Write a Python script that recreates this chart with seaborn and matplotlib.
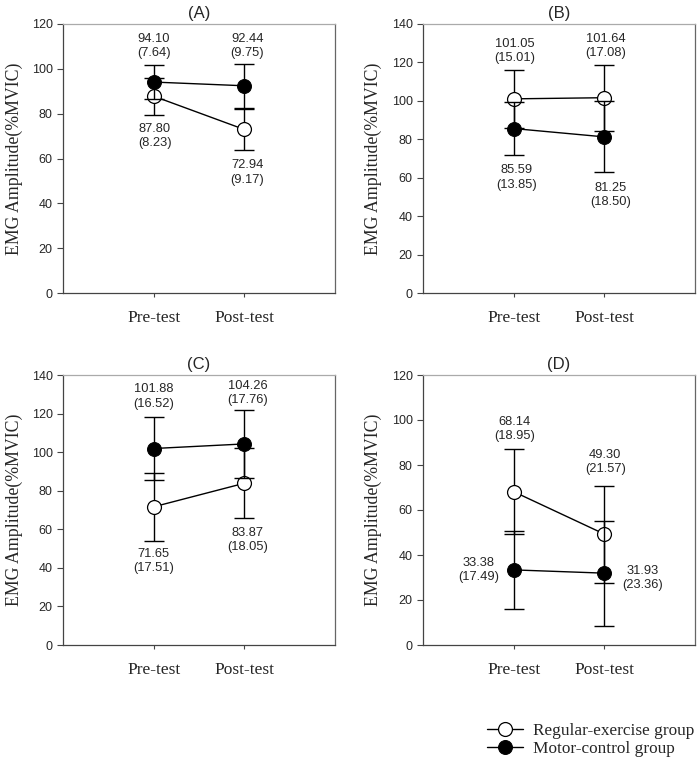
import pandas as pd
import seaborn as sns
import matplotlib.pyplot as plt

# values: [pre, post] per panel
panels = ["(A)", "(B)", "(C)", "(D)"]
times = ["Pre-test", "Post-test"]
regular_mean = [[87.80, 72.94], [101.05, 101.64], [71.65, 83.87], [68.14, 49.30]]
regular_sd = [[8.23, 9.17], [15.01, 17.08], [17.51, 18.05], [18.95, 21.57]]
motor_mean = [[94.10, 92.44], [85.59, 81.25], [101.88, 104.26], [33.38, 31.93]]
motor_sd = [[7.64, 9.75], [13.85, 18.50], [16.52, 17.76], [17.49, 23.36]]
y_max = [120, 140, 140, 120]
groups = ["Regular-exercise group", "Motor-control group"]

# label offsets in pixels (dx, dy) for [pre, post]
reg_offsets = [[(1, -40), (3, -43)], [(1, 48), (1, 52)], [(0, -54), (3, -57)], [(1, 63), (1, 72)]]
mot_offsets = [[(0, 36), (3, 40)], [(3, -49), (6, -58)], [(0, 52), (3, 51)], [(-35, 0), (38, -5)]]

sns.set_style("white")
plt.rcParams["font.family"] = ["Liberation Sans", "DejaVu Sans"]
serif = ["Liberation Serif", "DejaVu Serif"]

fig = plt.figure(figsize=(7, 7.63), dpi=100)
W, H = 700, 763
boxes = [(63, 24, 272, 269), (423, 24, 272, 269), (63, 375, 272, 270), (423, 375, 272, 270)]
label_x = [23, 382, 23, 382]

handles = []
for i, (l, t, w, h) in enumerate(boxes):
    ax = fig.add_axes([l / W, 1 - (t + h) / H, w / W, h / H])
    x = [0, 1]
    df = pd.DataFrame({
        "x": x * 2,
        "mean": regular_mean[i] + motor_mean[i],
        "sd": regular_sd[i] + motor_sd[i],
        "group": [groups[0]] * 2 + [groups[1]] * 2,
    })
    reg = df[df["group"] == groups[0]]
    mot = df[df["group"] == groups[1]]

    ax.errorbar(reg["x"], reg["mean"], yerr=reg["sd"], fmt="none", ecolor="black",
                elinewidth=1, capsize=7, capthick=1, zorder=2)
    sns.lineplot(data=reg, x="x", y="mean", color="black", marker="o", markersize=10,
                 markerfacecolor="white", markeredgecolor="black", markeredgewidth=0.9,
                 linewidth=1, errorbar=None, ax=ax, zorder=3)
    h_reg = ax.lines[-1]
    ax.errorbar(mot["x"], mot["mean"], yerr=mot["sd"], fmt="none", ecolor="black",
                elinewidth=1, capsize=7, capthick=1, zorder=4)
    sns.lineplot(data=mot, x="x", y="mean", color="black", marker="o", markersize=10,
                 markerfacecolor="black", markeredgecolor="black",
                 linewidth=1, errorbar=None, ax=ax, zorder=5)
    h_mot = ax.lines[-1]
    if i == 0:
        handles = [h_reg, h_mot]

    for j in range(2):
        ax.annotate(f"{regular_mean[i][j]:.2f}\n({regular_sd[i][j]:.2f})",
                    (x[j], regular_mean[i][j]), xytext=reg_offsets[i][j],
                    textcoords="offset pixels", ha="center", va="center",
                    fontsize=9.3, linespacing=1.25, zorder=6)
        ax.annotate(f"{motor_mean[i][j]:.2f}\n({motor_sd[i][j]:.2f})",
                    (x[j], motor_mean[i][j]), xytext=mot_offsets[i][j],
                    textcoords="offset pixels", ha="center", va="center",
                    fontsize=9.3, linespacing=1.25, zorder=6)

    ax.set_xlim(-1, 2)
    ax.set_ylim(0, y_max[i])
    ax.set_yticks(range(0, y_max[i] + 1, 20))
    ax.set_xticks(x)
    ax.set_xticklabels(times, family=serif, fontsize=12.5)
    ax.tick_params(axis="y", labelsize=9, length=4, width=0.8, direction="out", left=True, color="#444")
    ax.tick_params(axis="x", length=3, width=0.8, direction="out", bottom=True, pad=9, color="#444")
    ax.set_xlabel("")
    ax.set_ylabel("EMG Amplitude(%MVIC)", family=serif, fontsize=12.8)
    ax.yaxis.set_label_coords((label_x[i] - l) / w, 0.5)
    ax.set_title(panels[i], fontsize=12, pad=4)
    for side, col in [("left", "#444"), ("bottom", "#444"), ("right", "#666"), ("top", "#aaa")]:
        ax.spines[side].set_visible(True)
        ax.spines[side].set_color(col)
        ax.spines[side].set_linewidth(0.9)

fig.legend(handles, groups, loc="center left", bbox_to_anchor=(480 / W, 1 - 740 / H),
           frameon=False, prop={"family": serif, "size": 12.4}, handlelength=2.1,
           handletextpad=0.6, labelspacing=0.12, borderaxespad=0)

fig.savefig("out.png", dpi=100)
